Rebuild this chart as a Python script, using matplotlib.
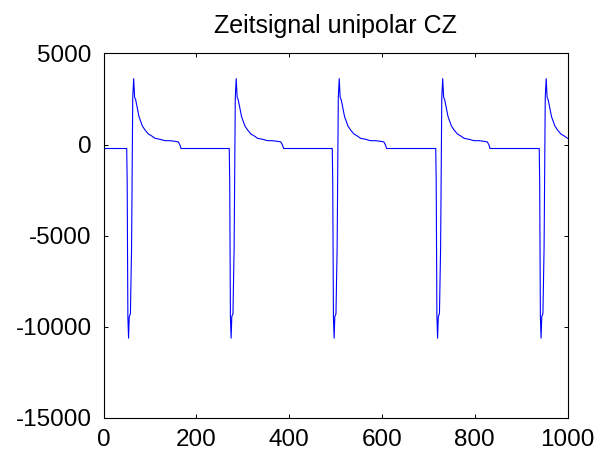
"""
Zeitsignal unipolar CZ: five repeated pulses of a unipolar line code,
drawn in the plain MATLAB figure look (blue trace, boxed axes, inward ticks).
"""

import matplotlib

matplotlib.use("Agg")
import matplotlib.pyplot as plt
import numpy as np


# ===== Data =====
# Sample index at which each pulse starts to fall
PULSE_ONSETS = [50, 271, 493, 716, 939]

# One pulse, as offsets from its onset (samples) and amplitudes
PULSE_OFFSETS = [0, 1, 2.5, 4, 5.5, 8, 10.5, 13, 15, 17, 19.4, 21.5, 23.7,
                 26.5, 30.2, 33.7, 39.4, 46.6, 53.8, 61, 71.8, 82.5, 93.3,
                 104, 111.2, 114.8, 117]
PULSE_VALUES = [-220, -1990, -9450, -10640, -9450, -9300, -5650, 2560, 3620,
                2600, 2450, 2175, 1900, 1530, 1260, 1020, 800, 580, 470, 340,
                285, 210, 210, 175, 140, -30, -220]

BASELINE = -220
N_SAMPLES = 1000

X_TICKS = [0, 200, 400, 600, 800, 1000]
Y_TICKS = [-15000, -10000, -5000, 0, 5000]
TITLE = "Zeitsignal unipolar CZ"


def build_signal():
    t = [0.0]
    y = [BASELINE]
    for onset in PULSE_ONSETS:
        t.extend(onset + off for off in PULSE_OFFSETS)
        y.extend(PULSE_VALUES)
    if t[-1] < N_SAMPLES:
        t.append(N_SAMPLES)
        y.append(BASELINE)
    return np.array(t), np.array(y)


def main():
    plt.rcParams["font.family"] = ["Liberation Sans", "DejaVu Sans"]
    plt.rcParams["axes.unicode_minus"] = False  # plain hyphen, like MATLAB

    t, y = build_signal()

    fig = plt.figure(figsize=(6.06, 4.62), dpi=100)
    ax = fig.add_axes([0.1708, 0.0963, 0.7657, 0.7879])

    ax.plot(t, y, color="#0000FF", linewidth=0.8)

    ax.set_xlim(0, N_SAMPLES)
    ax.set_ylim(-15000, 5000)
    ax.set_xticks(X_TICKS)
    ax.set_yticks(Y_TICKS)

    ax.tick_params(direction="in", length=3, width=0.7, top=True, right=True,
                   labelsize=17.5, pad=8.6, colors="black")
    for spine in ax.spines.values():
        spine.set_linewidth(0.8)
        spine.set_color("black")

    ax.set_title(TITLE, fontsize=18, pad=14.4)

    fig.savefig("out.png", dpi=100, facecolor="white")


if __name__ == "__main__":
    main()
